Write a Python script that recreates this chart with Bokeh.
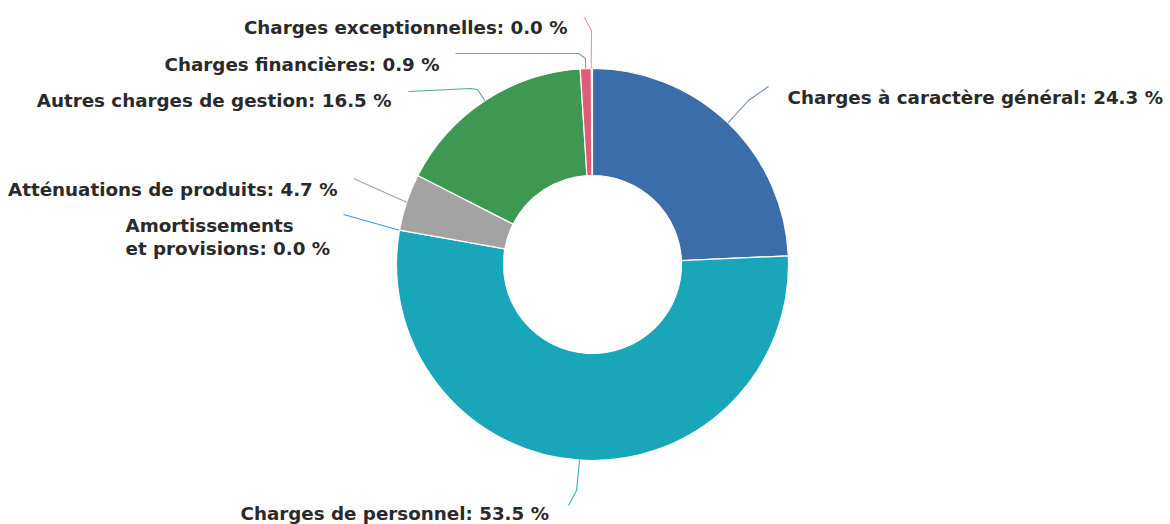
import math
from bokeh.plotting import figure
from bokeh.models import Range1d
from bokeh.embed import file_html
from bokeh.resources import INLINE
from bokeh.core.properties import value

# ---- data ----
categories = [
    "Charges à caractère général",
    "Charges de personnel",
    "Amortissements\net provisions",
    "Atténuations de produits",
    "Autres charges de gestion",
    "Charges financières",
    "Charges exceptionnelles",
]
percent = [24.3, 53.5, 0.0, 4.7, 16.5, 0.9, 0.0]
slice_colors = ["#3b6ea8", "#19a6b8", "#3f86d8", "#a3a3a3", "#3f9852", "#e05c74", "#e8819b"]
line_colors = ["#6a88b4", "#38b2c6", "#4a8fe0", "#a0a0a0", "#5aa878", "#d5798c", "#e596ab"]

# ---- layout (picture pixel coordinates, y down) ----
CX, CY = 592, 264
R_OUT, R_IN = 196, 89
FONT = "DejaVu Sans"
FSIZE = "18.3px"
TXT = "#2a2a2a"

# label anchor: (x, baseline y, align)
label_pos = [
    (787, 97, "left"),
    (240, 513, "left"),
    (125, 225, "left"),
    (337, 189, "right"),
    (391, 100, "right"),
    (439, 64, "right"),
    (567, 27, "right"),
]
# connector points after the slice edge point
conn_pts = [
    [(748, 100), (768, 86)],
    [(576, 490), (568, 505)],
    [(343, 214)],
    [(353, 178)],
    [(477, 89), (470, 88), (408, 91)],
    [(585, 58), (578, 53), (455, 53)],
    [(591, 30), (584, 17)],
]

W, H = 1170, 524
p = figure(width=W, height=H, output_backend="svg", toolbar_location=None,
           x_range=Range1d(0, W), y_range=Range1d(-H, 0),
           x_axis_location=None, y_axis_location=None, min_border=0,
           match_aspect=False)
p.outline_line_color = None
p.grid.visible = False
p.background_fill_color = "white"
p.border_fill_color = "white"

total = 100.0
cum = 0.0
for i, (cat, v) in enumerate(zip(categories, percent)):
    start = 90 - cum / total * 360
    end = 90 - (cum + v) / total * 360
    if v > 0:
        p.annular_wedge(x=CX, y=-CY, inner_radius=R_IN, outer_radius=R_OUT,
                        start_angle=math.radians(start), end_angle=math.radians(end),
                        direction="clock", fill_color=slice_colors[i],
                        line_color="white", line_width=1.2)
    mid = math.radians((cum + v / 2) / total * 360)
    sx = CX + R_OUT * math.sin(mid)
    sy = CY - R_OUT * math.cos(mid)
    xs = [sx] + [q[0] for q in conn_pts[i]]
    ys = [-sy] + [-q[1] for q in conn_pts[i]]
    p.line(xs, ys, line_color=line_colors[i], line_width=1.1)
    cum += v

for i, (cat, v) in enumerate(zip(categories, percent)):
    lx, ly, al = label_pos[i]
    lines = (cat + ": " + f"{v:.1f} %").split("\n")
    for k, t in enumerate(lines):
        p.text(x=[lx], y=[-(ly + 23 * k)], text=[t], text_align=al,
               text_baseline="alphabetic", text_font=value(FONT),
               text_font_style="bold", text_font_size=FSIZE, text_color=TXT)

open("out.html", "w").write(file_html(p, INLINE))
